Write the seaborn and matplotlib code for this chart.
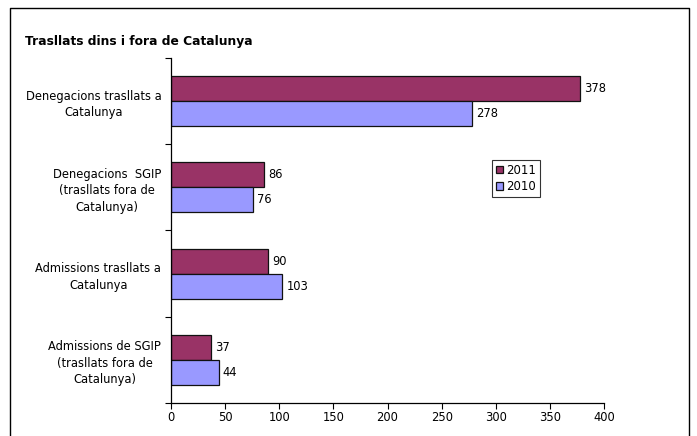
import pandas as pd
import matplotlib.pyplot as plt
import matplotlib.lines as mlines
import seaborn as sns

categories = ["Denegacions trasllats a\nCatalunya",
              "Denegacions  SGIP\n(trasllats fora de\nCatalunya)",
              "Admissions trasllats a\nCatalunya",
              "Admissions de SGIP\n(trasllats fora de\nCatalunya)"]
years = ["2011", "2010"]
values_2011 = [378, 86, 90, 37]
values_2010 = [278, 76, 103, 44]
x_ticks = [0, 50, 100, 150, 200, 250, 300, 350, 400]

df = pd.DataFrame({
    "categoria": categories * 2,
    "any": ["2011"] * 4 + ["2010"] * 4,
    "valor": values_2011 + values_2010,
})

sns.set_style("white")
plt.rcParams["font.family"] = ["DejaVu Sans"]
plt.rcParams["text.color"] = "black"
plt.rcParams["xtick.color"] = "black"
plt.rcParams["ytick.color"] = "black"

fig = plt.figure(figsize=(6.97, 4.36), dpi=100)
ax = fig.add_axes([171 / 697, 1 - 403 / 436, 433 / 697, 345 / 436])

sns.barplot(data=df, y="categoria", x="valor", hue="any", hue_order=years,
            order=categories, orient="h", width=0.58, gap=0, saturation=1,
            palette={"2011": "#993366", "2010": "#9999FF"},
            edgecolor="#111111", linewidth=0.9, ax=ax)

for cont in ax.containers:
    ax.bar_label(cont, padding=3, fontsize=8.3, color="black")

ax.set_xlim(0, 400)
ax.set_xticks(x_ticks)
ax.set_ylim(3.5, -0.5)
ax.set_yticks(range(4))
ax.set_yticklabels(categories, multialignment="center", linespacing=1.35)
ax.set_yticks([-0.5, 0.5, 1.5, 2.5, 3.5], minor=True)
ax.tick_params(axis="y", which="major", length=0, pad=7, labelsize=8.3)
ax.tick_params(axis="y", which="minor", length=4, width=0.8, left=True, direction="out")
ax.tick_params(axis="x", length=4, width=0.8, bottom=True, direction="out", labelsize=8.3, pad=2)
ax.set_xlabel("")
ax.set_ylabel("")
for s in ["top", "right"]:
    ax.spines[s].set_visible(False)
for s in ["left", "bottom"]:
    ax.spines[s].set_color("black")
    ax.spines[s].set_linewidth(0.9)

leg = ax.legend(loc="upper left", bbox_to_anchor=((492 - 171) / 433, (403 - 160) / 345),
                frameon=True, fancybox=False, fontsize=8.5, handlelength=0.6, handleheight=0.6,
                handletextpad=0.3, borderpad=0.3, labelspacing=0.3, borderaxespad=0)
leg.get_frame().set_edgecolor("black")
leg.get_frame().set_linewidth(0.8)

fig.text(25 / 697, 1 - 42 / 436, "Trasllats dins i fora de Catalunya", fontsize=8.8,
         fontweight="bold", va="center", ha="left")

# outer chart border
fig.add_artist(mlines.Line2D([10 / 697, 10 / 697, 689 / 697, 689 / 697],
                             [0, 1 - 8 / 436, 1 - 8 / 436, 0],
                             transform=fig.transFigure, color="black", lw=1))

plt.savefig("out.png", dpi=100)
